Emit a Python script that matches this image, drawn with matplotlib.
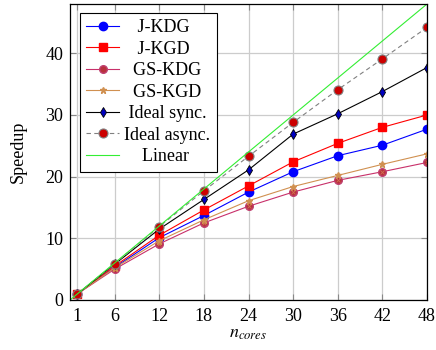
import matplotlib.pyplot as plt
import numpy as np

plt.rcParams['font.family'] = ['Liberation Serif', 'DejaVu Serif']
plt.rcParams['mathtext.fontset'] = 'stix'
plt.rcParams['font.size'] = 13

# number of cores
cores = [1, 6, 12, 18, 24, 30, 36, 42, 48]

j_kdg = [1.0, 5.3, 10.1, 13.7, 17.5, 20.8, 23.4, 25.1, 27.7]
j_kgd = [1.0, 5.5, 10.5, 14.6, 18.5, 22.4, 25.4, 28.0, 30.0]
gs_kdg = [1.0, 5.0, 9.1, 12.5, 15.2, 17.5, 19.4, 20.8, 22.3]
gs_kgd = [1.0, 5.2, 9.6, 13.0, 16.1, 18.4, 20.2, 22.0, 23.7]
ideal_sync = [1.0, 5.8, 11.5, 16.3, 21.1, 26.9, 30.2, 33.8, 37.7]
ideal_async = [1.0, 5.9, 11.9, 17.7, 23.3, 28.8, 34.1, 39.1, 44.2]
linear = [0, 48]

fig = plt.figure(figsize=(4.36, 3.5), dpi=100)
ax = fig.add_axes([70 / 436, 50 / 350, 357 / 436, 296 / 350])

# leading spaces roughly centre the legend texts like the original
lw = 0.8
ax.plot(cores, j_kdg, color='blue', lw=lw, marker='o', ms=6, mfc='blue', mec='blue',
        label='   J-KDG')
ax.plot(cores, j_kgd, color='red', lw=lw, marker='s', ms=5.5, mfc='red', mec='red',
        label='   J-KGD')
ax.plot(cores, gs_kdg, color='#c8306a', lw=lw, marker='o', ms=5.5, mfc='#b8303c', mec='#c04070',
        label='  GS-KDG')
ax.plot(cores, gs_kdg, ls='none', marker='x', ms=3.5, mec='#d07050', mew=0.6)
ax.plot(cores, gs_kgd, color='#d09050', lw=lw, marker='*', ms=5, mfc='#d09050', mec='#d09050',
        label='  GS-KGD')
ax.plot(cores, ideal_sync, color='black', lw=lw, marker='d', ms=5.5, mfc='#0000c0', mec='black',
        mew=0.6, label=' Ideal sync.')
ax.plot(cores, ideal_async, color='gray', lw=lw, ls=(0, (4, 3)), marker='o', ms=6.5,
        mfc='#cc0000', mec='gray', mew=0.8, label='Ideal async.')
ax.plot(linear, linear, color='#33ee33', lw=lw, label='    Linear')

ax.set_xlim(0, 48)
ax.set_ylim(0, 48)
ax.set_xticks(cores)
ax.set_yticks([0, 10, 20, 30, 40])
ax.grid(True, color='#cccccc', lw=0.9)
ax.set_axisbelow(True)
ax.tick_params(direction='in', length=4, color='#888888', top=True, right=True)
ax.tick_params(axis='x', pad=6)
ax.tick_params(axis='y', pad=5)
for s in ax.spines.values():
    s.set_linewidth(0.9)

ax.set_xlabel('$n_{cores}$', fontsize=13, labelpad=0)
ax.set_ylabel('Speedup', fontsize=13)
ax.yaxis.set_label_coords(-0.12, 0.5)

leg = ax.legend(loc='upper left', bbox_to_anchor=(0.028, 0.97), borderaxespad=0,
                fancybox=False, edgecolor='black', framealpha=1, handlelength=1.8,
                handletextpad=0.3, labelspacing=0.25, borderpad=0.35)
leg.get_frame().set_linewidth(0.8)

fig.savefig('out.png', dpi=100)
